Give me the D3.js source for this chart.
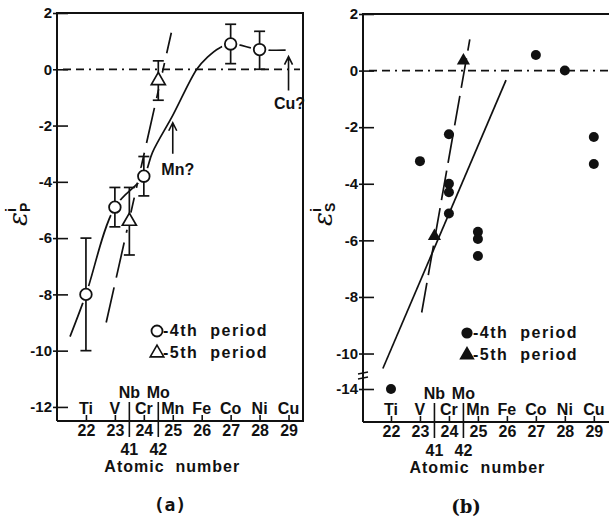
<!DOCTYPE html>
<html>
<head>
<meta charset="utf-8">
<script src="https://cdn.jsdelivr.net/npm/d3@7"></script>
<style>
  body { margin: 0; background: #fff; }
  svg text { font-family: "Liberation Sans", Arial, sans-serif; fill: #111; }
</style>
</head>
<body>
<div id="chart"></div>
<script>
// Daten
const elements = ["Ti", "V", "Cr", "Mn", "Fe", "Co", "Ni", "Cu"];
const atomicNumbers = [22, 23, 24, 25, 26, 27, 28, 29];
const period5 = [{ sym: "Nb", z: 41, pos: 23.5 }, { sym: "Mo", z: 42, pos: 24.5 }];

const ticksA = [2, 0, -2, -4, -6, -8, -10, -12];
const ticksB = [2, 0, -2, -4, -6, -8, -10, -14];

// (a) epsilon_P
const epP4 = [
  { z: 22, v: -8.0, lo: -10.0, hi: -6.0 },
  { z: 23, v: -4.9, lo: -5.6, hi: -4.2 },
  { z: 24, v: -3.8, lo: -4.5, hi: -3.1 },
  { z: 27, v: 0.9, lo: 0.2, hi: 1.6 },
  { z: 28, v: 0.7, lo: 0.0, hi: 1.35 }
];
const epP5 = [
  { z: 23.5, v: -5.4, lo: -6.6, hi: -4.2 },
  { z: 24.5, v: -0.4, lo: -1.1, hi: 0.3 }
];
const epP4Curve = [[21.45, -9.5], [22, -8], [23, -4.9], [24, -3.8], [24.3, -2.95], [25, -1.64],
  [25.83, 0], [26.2, 0.43], [26.6, 0.75], [27, 0.9], [28, 0.7], [28.9, 0.68]];
const epP5Line = [[22.7, -9.0], [24.95, 1.3]];

// (b) epsilon_S
const epS4 = [
  { z: 22, v: -14 }, { z: 23, v: -3.2 },
  { z: 24, v: -2.25 }, { z: 24, v: -4.0 }, { z: 24, v: -4.3 }, { z: 24, v: -5.05 },
  { z: 25, v: -5.7 }, { z: 25, v: -5.95 }, { z: 25, v: -6.55 },
  { z: 27, v: 0.55 }, { z: 28, v: 0.0 },
  { z: 29, v: -2.35 }, { z: 29, v: -3.3 }
];
const epS5 = [{ z: 23.5, v: -5.85 }, { z: 24.5, v: 0.35 }];
const epS4Line = [[21.72, -10.53], [25.97, -0.34]];
const epS5Line = [[23.06, -8.55], [24.72, 1.1]];

const svg = d3.select("#chart").append("svg")
  .attr("width", 609).attr("height", 517);

const FONT = "'Liberation Sans', Arial, sans-serif";

function drawPanel(cfg) {
  const { x, y, top, bottom, left, right } = cfg;
  const g = svg.append("g");

  // Rahmen
  g.append("path")
    .attr("d", `M${left},${bottom}V${top}H${right}V${bottom}H${left}`)
    .attr("fill", "none").attr("stroke", "#111").attr("stroke-width", 2);

  // y-Achse
  const yAxis = g.append("g").attr("transform", `translate(${left},0)`)
    .call(d3.axisLeft(y).tickValues(cfg.yTicks).tickSizeInner(-11).tickSizeOuter(0)
      .tickFormat(d => d));
  yAxis.select(".domain").remove();
  yAxis.selectAll("line").attr("x1", -4).attr("x2", 11).attr("stroke", "#111").attr("stroke-width", 1.6);
  yAxis.selectAll("text").attr("x", -5).style("font-size", "15px").style("font-weight", "bold")
    .style("font-family", FONT);

  // x-Achse
  const xAxis = g.append("g").attr("transform", `translate(0,${bottom})`)
    .call(d3.axisBottom(x).tickValues(atomicNumbers).tickSizeInner(-6).tickSizeOuter(0));
  xAxis.select(".domain").remove();
  xAxis.selectAll("line").attr("stroke", "#111").attr("stroke-width", 1.6);
  xAxis.selectAll("text").attr("y", 4).attr("dy", "0.71em").style("font-size", "16px")
    .style("font-weight", "bold").style("font-family", FONT);

  g.selectAll(".sym").data(elements).join("text")
    .attr("x", (d, i) => x(atomicNumbers[i])).attr("y", bottom - 7)
    .attr("text-anchor", "middle").style("font-size", "16px").style("font-weight", "bold")
    .text(d => d);

  // Trennlinien Nb / Mo
  g.selectAll(".div").data(period5).join("line")
    .attr("x1", d => x(d.pos)).attr("x2", d => x(d.pos))
    .attr("y1", bottom - 19).attr("y2", bottom + 16)
    .attr("stroke", "#111").attr("stroke-width", 1.6);
  g.selectAll(".p5sym").data(period5).join("text")
    .attr("x", d => x(d.pos)).attr("y", bottom - 23)
    .attr("text-anchor", "middle").style("font-size", "16px").style("font-weight", "bold")
    .text(d => d.sym);
  g.selectAll(".p5z").data(period5).join("text")
    .attr("x", d => x(d.pos)).attr("y", bottom + 34)
    .attr("text-anchor", "middle").style("font-size", "16px").style("font-weight", "bold")
    .text(d => d.z);

  g.append("text").attr("x", (x(22) + x(29)) / 2 - 15).attr("y", bottom + 51)
    .attr("text-anchor", "middle").style("font-size", "16px").style("font-weight", "bold")
    .style("letter-spacing", "1px").attr("xml:space", "preserve")
    .text("Atomic  number");

  // Null-Linie
  g.append("line")
    .attr("x1", left + 6).attr("x2", cfg.zeroEnd)
    .attr("y1", y(0)).attr("y2", y(0))
    .attr("stroke", "#111").attr("stroke-width", 1.8)
    .attr("stroke-dasharray", "8,5,8,5,2,5");

  // y-Beschriftung
  const lab = g.append("g").attr("transform", `translate(${cfg.labelPos[0]},${cfg.labelPos[1]}) rotate(-90)`);
  lab.append("text").attr("x", 0).attr("y", 0)
    .style("font-family", "'DejaVu Serif', serif").style("font-size", "26px").style("font-style", "italic")
    .text("\u03b5");
  lab.append("text").attr("x", 14).attr("y", -11)
    .style("font-size", "14px").style("font-weight", "bold").text("i");
  lab.append("text").attr("x", 14).attr("y", 3)
    .style("font-size", "14px").style("font-weight", "bold").text(cfg.sub);

  // Legende
  const leg = g.append("g").attr("transform", `translate(${cfg.legend[0]},${cfg.legend[1]})`);
  leg.append("path").attr("transform", "translate(0,-5)")
    .attr("d", d3.symbol(d3.symbolCircle, cfg.filled ? 70 : 95)())
    .attr("fill", cfg.filled ? "#111" : "#fff").attr("stroke", "#111").attr("stroke-width", 1.8);
  leg.append("path").attr("transform", "translate(0,17)")
    .attr("d", d3.symbol(d3.symbolTriangle, cfg.filled ? 70 : 80)())
    .attr("fill", cfg.filled ? "#111" : "#fff").attr("stroke", "#111").attr("stroke-width", 1.6);
  leg.append("text").attr("x", 6).attr("y", 0).style("font-size", "16px").style("font-weight", "bold")
    .style("letter-spacing", "1.5px").attr("xml:space", "preserve").text("-4th  period");
  leg.append("text").attr("x", 6).attr("y", 22).style("font-size", "16px").style("font-weight", "bold")
    .style("letter-spacing", "1.5px").attr("xml:space", "preserve").text("-5th  period");

  g.append("text").attr("x", cfg.title[0]).attr("y", cfg.title[1])
    .attr("text-anchor", "middle")
    .style("font-family", cfg.titleFont).style("font-size", "18px").style("font-weight", "bold")
    .text(cfg.titleText);

  return g;
}

// ---------- (a) ----------
const xA = d3.scaleLinear().domain([21, 29.5]).range([57, 303]);
const yA = d3.scaleLinear().domain([-12.5, 2]).range([421, 13]);
const gA = drawPanel({
  x: xA, y: yA, top: 13, bottom: 421, left: 57, right: 303, yTicks: ticksA,
  zeroEnd: 300, labelPos: [27, 226], sub: "P", legend: [157, 336], filled: false,
  title: [170, 511], titleText: "(a)", titleFont: "'DejaVu Sans Mono', monospace"
});

const line = d3.line().x(d => xA(d[0])).y(d => yA(d[1]));
gA.append("path").datum(epP4Curve)
  .attr("d", line.curve(d3.curveCatmullRom.alpha(0.5)))
  .attr("fill", "none").attr("stroke", "#111").attr("stroke-width", 1.7);
gA.append("path").datum(epP5Line)
  .attr("d", d3.line().x(d => xA(d[0])).y(d => yA(d[1])))
  .attr("fill", "none").attr("stroke", "#111").attr("stroke-width", 1.7)
  .attr("stroke-dasharray", "36,10");

// Lücken um Marker
gA.selectAll(".halo").data(epP4.concat(epP5)).join("circle")
  .attr("cx", d => xA(d.z)).attr("cy", d => yA(d.v)).attr("r", 9).attr("fill", "#fff");

const errA = gA.selectAll(".err").data(epP4.concat(epP5)).join("g")
  .attr("stroke", "#111").attr("stroke-width", 1.7);
errA.append("line").attr("x1", d => xA(d.z)).attr("x2", d => xA(d.z))
  .attr("y1", d => yA(d.lo)).attr("y2", d => yA(d.hi));
errA.append("line").attr("x1", d => xA(d.z) - 5.5).attr("x2", d => xA(d.z) + 5.5)
  .attr("y1", d => yA(d.lo)).attr("y2", d => yA(d.lo));
errA.append("line").attr("x1", d => xA(d.z) - 5.5).attr("x2", d => xA(d.z) + 5.5)
  .attr("y1", d => yA(d.hi)).attr("y2", d => yA(d.hi));

gA.selectAll(".p4").data(epP4).join("circle")
  .attr("cx", d => xA(d.z)).attr("cy", d => yA(d.v)).attr("r", 5.8)
  .attr("fill", "#fff").attr("stroke", "#111").attr("stroke-width", 1.8);
gA.selectAll(".p5").data(epP5).join("path")
  .attr("transform", d => `translate(${xA(d.z)},${yA(d.v)})`)
  .attr("d", d3.symbol(d3.symbolTriangle, 85)())
  .attr("fill", "#fff").attr("stroke", "#111").attr("stroke-width", 1.7);

// Pfeile
const notes = [{ z: 25, from: -3.0, to: -1.9, text: "Mn?", ty: -3.75, dx: 5 },
               { z: 29, from: -0.75, to: 0.45, text: "Cu?", ty: -1.4, dx: 1 }];
notes.forEach(n => {
  const xx = xA(n.z);
  gA.append("path")
    .attr("d", `M${xx},${yA(n.from)}V${yA(n.to)}M${xx - 4},${yA(n.to) + 8}L${xx},${yA(n.to)}L${xx + 4},${yA(n.to) + 8}`)
    .attr("fill", "none").attr("stroke", "#111").attr("stroke-width", 1.6);
  gA.append("text").attr("x", xx + n.dx).attr("y", yA(n.ty))
    .attr("text-anchor", "middle").style("font-size", "16px").style("font-weight", "bold")
    .text(n.text);
});

// ---------- (b) ----------
const xB = d3.scaleLinear().domain([21, 29.8]).range([362, 617]);
const yB = d3.scaleLinear().domain([-15.2, -14, -10.6, 2]).range([422, 389, 370.5, 14]);
const gB = drawPanel({
  x: xB, y: yB, top: 14, bottom: 422, left: 363, right: 620, yTicks: ticksB,
  zeroEnd: 609, labelPos: [332, 226], sub: "S", legend: [467, 338], filled: true,
  title: [466, 513], titleText: "(b)", titleFont: "'DejaVu Serif', serif"
});

// Achsenbruch
[-3, 2].forEach(o => {
  gB.append("line").attr("x1", 358).attr("x2", 368)
    .attr("y1", 376 + o + 1).attr("y2", 376 + o - 1)
    .attr("stroke", "#111").attr("stroke-width", 1.4);
});

gB.append("path").datum(epS4Line)
  .attr("d", d3.line().x(d => xB(d[0])).y(d => yB(d[1])))
  .attr("fill", "none").attr("stroke", "#111").attr("stroke-width", 1.7);
gB.append("path").datum(epS5Line)
  .attr("d", d3.line().x(d => xB(d[0])).y(d => yB(d[1])))
  .attr("fill", "none").attr("stroke", "#111").attr("stroke-width", 1.7)
  .attr("stroke-dasharray", "30,8");

gB.selectAll(".p4").data(epS4).join("circle")
  .attr("cx", d => xB(d.z)).attr("cy", d => yB(d.v)).attr("r", 5)
  .attr("fill", "#111");
gB.selectAll(".p5").data(epS5).join("path")
  .attr("transform", d => `translate(${xB(d.z)},${yB(d.v)})`)
  .attr("d", d3.symbol(d3.symbolTriangle, 75)())
  .attr("fill", "#111");
</script>
</body>
</html>
